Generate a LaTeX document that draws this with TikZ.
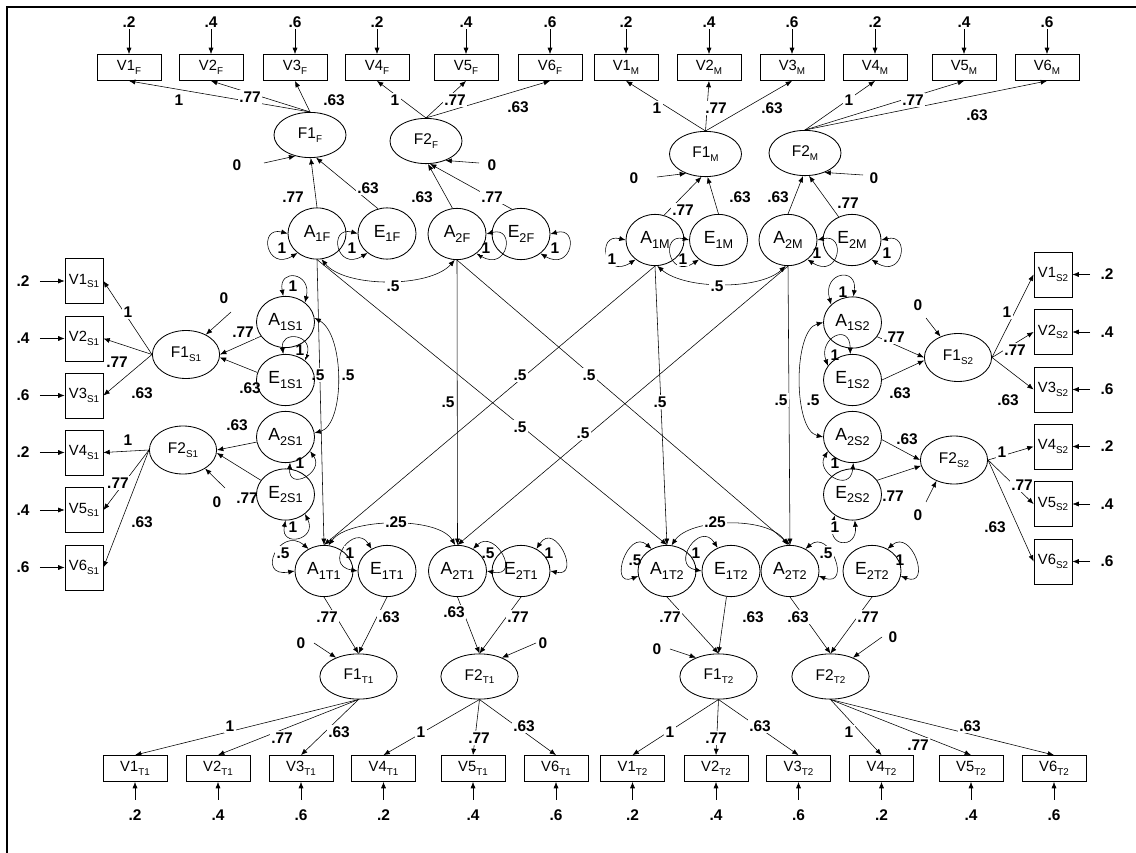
\documentclass[tikz,border=0pt]{standalone}
\usepackage{fontspec}
\setmainfont{Liberation Sans}
\usetikzlibrary{arrows.meta,shapes.geometric,calc}
\pgfdeclarelayer{background}
\pgfsetlayers{background,main}
\newcommand\vsb[1]{\raisebox{-0.45ex}{\fontsize{7}{8}\selectfont #1}}
\newcommand\asb[1]{\raisebox{-0.45ex}{\fontsize{9}{10}\selectfont #1}}
\tikzset{
  obs/.style={draw, rectangle, line width=0.6pt, minimum width=1.6cm, minimum height=0.65cm, inner sep=0pt, font=\fontsize{10.5}{12}\selectfont},
  obss/.style={obs, minimum width=0.95cm, minimum height=1.125cm},
  lat/.style={draw, ellipse, line width=0.6pt, minimum width=1.45cm, minimum height=1.28cm, inner sep=0pt, font=\fontsize{12.5}{14}\selectfont},
  fac/.style={draw, ellipse, line width=0.6pt, minimum width=1.8cm, minimum height=1.13cm, inner sep=0pt, font=\fontsize{11}{13}\selectfont},
  facT/.style={fac, minimum width=1.93cm},
  facS/.style={fac, minimum width=1.68cm, minimum height=1.2cm},
  lbl/.style={font=\bfseries\fontsize{11}{13}\selectfont, fill=white, inner sep=1pt},
  arr/.style={-{Latex[length=4.5pt,width=3.6pt]}},
  dbl/.style={{Latex[length=4.5pt,width=3.6pt]}-{Latex[length=4.5pt,width=3.6pt]}},
}
\begin{document}
\begin{tikzpicture}[x=0.025cm, y=-0.025cm, line width=0.5pt]
\useasboundingbox (0,0) rectangle (1136,853);
\draw[line width=0.8pt] (7,853) -- (7,7) -- (1136,7);

% ---------- observed variables, top ----------
\node[obs] (V1F) at (129,67.5) {V1\vsb{F}};
\node[obs] (V2F) at (211,67.5) {V2\vsb{F}};
\node[obs] (V3F) at (295,67.5) {V3\vsb{F}};
\node[obs] (V4F) at (377,67.5) {V4\vsb{F}};
\node[obs] (V5F) at (466,67.5) {V5\vsb{F}};
\node[obs] (V6F) at (550,67.5) {V6\vsb{F}};
\node[obs] (V1M) at (626,67.5) {V1\vsb{M}};
\node[obs] (V2M) at (709,67.5) {V2\vsb{M}};
\node[obs] (V3M) at (792,67.5) {V3\vsb{M}};
\node[obs] (V4M) at (875,67.5) {V4\vsb{M}};
\node[obs] (V5M) at (964,67.5) {V5\vsb{M}};
\node[obs] (V6M) at (1047,67.5) {V6\vsb{M}};
% ---------- observed variables, bottom ----------
\node[obs] (V1T1) at (135,768.5) {V1\vsb{T1}};
\node[obs] (V2T1) at (218,768.5) {V2\vsb{T1}};
\node[obs] (V3T1) at (301,768.5) {V3\vsb{T1}};
\node[obs] (V4T1) at (383.5,768.5) {V4\vsb{T1}};
\node[obs] (V5T1) at (473,768.5) {V5\vsb{T1}};
\node[obs] (V6T1) at (556,768.5) {V6\vsb{T1}};
\node[obs] (V1T2) at (632.5,768.5) {V1\vsb{T2}};
\node[obs] (V2T2) at (716,768.5) {V2\vsb{T2}};
\node[obs] (V3T2) at (798.5,768.5) {V3\vsb{T2}};
\node[obs] (V4T2) at (881.5,768.5) {V4\vsb{T2}};
\node[obs] (V5T2) at (971,768.5) {V5\vsb{T2}};
\node[obs] (V6T2) at (1054,768.5) {V6\vsb{T2}};
% ---------- observed variables, sides ----------
\node[obss] (V1S1) at (84,281) {V1\vsb{S1}};
\node[obss] (V2S1) at (84,338.5) {V2\vsb{S1}};
\node[obss] (V3S1) at (84,395.5) {V3\vsb{S1}};
\node[obss] (V4S1) at (84,452.5) {V4\vsb{S1}};
\node[obss] (V5S1) at (84,510) {V5\vsb{S1}};
\node[obss] (V6S1) at (84,567.5) {V6\vsb{S1}};
\node[obss] (V1S2) at (1053,274.5) {V1\vsb{S2}};
\node[obss] (V2S2) at (1053,332) {V2\vsb{S2}};
\node[obss] (V3S2) at (1053,389.5) {V3\vsb{S2}};
\node[obss] (V4S2) at (1053,446.5) {V4\vsb{S2}};
\node[obss] (V5S2) at (1053,504) {V5\vsb{S2}};
\node[obss] (V6S2) at (1053,561.5) {V6\vsb{S2}};

% ---------- factors ----------
\node[fac] (F1F) at (310,135) {F1\vsb{F}};
\node[fac] (F2F) at (426,141) {F2\vsb{F}};
\node[fac] (F1M) at (705.5,154) {F1\vsb{M}};
\node[fac] (F2M) at (805,153) {F2\vsb{M}};
\node[facS] (F1S1) at (186,354.5) {F1\vsb{S1}};
\node[facS] (F2S1) at (183,450) {F2\vsb{S1}};
\node[facS] (F1S2) at (958,357.5) {F1\vsb{S2}};
\node[facS] (F2S2) at (954,460) {F2\vsb{S2}};
\node[facT] (F1T1) at (358.5,676.5) {F1\vsb{T1}};
\node[facT] (F2T1) at (479.5,676.5) {F2\vsb{T1}};
\node[facT] (F1T2) at (718.5,676.5) {F1\vsb{T2}};
\node[facT] (F2T2) at (830.5,676.5) {F2\vsb{T2}};

% ---------- A / E latent variables ----------
\node[lat] (A1F) at (317,233.5) {A\asb{1F}};
\node[lat] (E1F) at (387,233.5) {E\asb{1F}};
\node[lat] (A2F) at (457,234) {A\asb{2F}};
\node[lat] (E2F) at (521,234) {E\asb{2F}};
\node[lat] (A1M) at (655,240) {A\asb{1M}};
\node[lat] (E1M) at (718.5,240) {E\asb{1M}};
\node[lat] (A2M) at (788,240) {A\asb{2M}};
\node[lat] (E2M) at (852,240) {E\asb{2M}};
\node[lat] (A1S1) at (285.5,322) {A\asb{1S1}};
\node[lat] (E1S1) at (285.5,380) {E\asb{1S1}};
\node[lat] (A2S1) at (285.5,437) {A\asb{2S1}};
\node[lat] (E2S1) at (285.5,494.5) {E\asb{2S1}};
\node[lat] (A1S2) at (852.5,322.5) {A\asb{1S2}};
\node[lat] (E1S2) at (852.5,380) {E\asb{1S2}};
\node[lat] (A2S2) at (852.5,437) {A\asb{2S2}};
\node[lat] (E2S2) at (852.5,494.5) {E\asb{2S2}};
\node[lat] (A1T1) at (324,571) {A\asb{1T1}};
\node[lat] (E1T1) at (387,571) {E\asb{1T1}};
\node[lat] (A2T1) at (457.5,571) {A\asb{2T1}};
\node[lat] (E2T1) at (521,571) {E\asb{2T1}};
\node[lat] (A1T2) at (667,571) {A\asb{1T2}};
\node[lat] (E1T2) at (731,571) {E\asb{1T2}};
\node[lat] (A2T2) at (790,571) {A\asb{2T2}};
\node[lat] (E2T2) at (872,571) {E\asb{2T2}};

% free ends of the disturbance arrows
\coordinate (z1) at (264,163);
\coordinate (z2) at (479,163);
\coordinate (z3) at (657,177);
\coordinate (z4) at (863,175);
\coordinate (z5) at (231,312);
\coordinate (z6) at (225,488);
\coordinate (z7) at (926,318);
\coordinate (z8) at (926,502);
\coordinate (z9) at (314,643);
\coordinate (z10) at (536,643);
\coordinate (z11) at (670,649);
\coordinate (z12) at (882,637);

\begin{pgfonlayer}{background}
% error variances of indicators
\foreach \n/\v in {V1F/.2,V2F/.4,V3F/.6,V4F/.2,V5F/.4,V6F/.6,V1M/.2,V2M/.4,V3M/.6,V4M/.2,V5M/.4,V6M/.6}{
  \node[lbl] (e\n) at ($(\n.center)+(0,-45.5)$) {\v};
  \draw[arr] (e\n) -- (\n);
}
\foreach \n/\v in {V1T1/.2,V2T1/.4,V3T1/.6,V4T1/.2,V5T1/.4,V6T1/.6,V1T2/.2,V2T2/.4,V3T2/.6,V4T2/.2,V5T2/.4,V6T2/.6}{
  \node[lbl] (e\n) at ($(\n.center)+(0,47)$) {\v};
  \draw[arr,shorten <=0.22cm] (e\n) -- (\n);
}
\foreach \n/\v in {V1S1/.2,V2S1/.4,V3S1/.6,V4S1/.2,V5S1/.4,V6S1/.6}{
  \node[lbl] (e\n) at ($(\n.center)+(-61,0)$) {\v};
  \draw[arr,shorten <=0.22cm] (e\n) -- (\n);
}
\foreach \n/\v in {V1S2/.2,V2S2/.4,V3S2/.6,V4S2/.2,V5S2/.4,V6S2/.6}{
  \node[lbl] (e\n) at ($(\n.center)+(54,0)$) {\v};
  \draw[arr,shorten <=0.22cm] (e\n) -- (\n);
}

% loadings
\foreach \f/\v in {F1F/V1F,F1F/V2F,F1F/V3F,F2F/V4F,F2F/V5F,F2F/V6F,F1M/V1M,F1M/V2M,F1M/V3M,F2M/V4M,F2M/V5M,F2M/V6M}
  \draw[arr] (\f.north) -- (\v.south);
\foreach \f/\v in {F1T1/V1T1,F1T1/V2T1,F1T1/V3T1,F2T1/V4T1,F2T1/V5T1,F2T1/V6T1,F1T2/V1T2,F1T2/V2T2,F1T2/V3T2,F2T2/V4T2,F2T2/V5T2,F2T2/V6T2}
  \draw[arr] (\f.south) -- (\v.north);
\foreach \f/\v in {F1S1/V1S1,F1S1/V2S1,F1S1/V3S1,F2S1/V4S1,F2S1/V5S1,F2S1/V6S1}
  \draw[arr] (\f.west) -- (\v.east);
\foreach \f/\v in {F1S2/V1S2,F1S2/V2S2,F1S2/V3S2,F2S2/V4S2,F2S2/V5S2,F2S2/V6S2}
  \draw[arr] (\f.east) -- (\v.west);

% disturbances
\draw[arr] (z1) -- (F1F.235);
\draw[arr] (z2) -- (F2F.-45);
\draw[arr] (z3) -- (F1M.225);
\draw[arr] (z4) -- (F2M.-45);
\draw[arr] (z5) -- (F1S1.45);
\draw[arr] (z6) -- (F2S1.-40);
\draw[arr] (z7) -- (F1S2.130);
\draw[arr] (z8) -- (F2S2.-130);
\draw[arr] (z9) -- (F1T1.140);
\draw[arr] (z10) -- (F2T1.40);
\draw[arr] (z11) -- (F1T2.140);
\draw[arr] (z12) -- (F2T2.40);

% A/E -> F paths
\draw[arr] (A1F.north) -- (F1F.-88);
\draw[arr] (E1F.110) -- (F1F.-75);
\draw[arr] (A2F.100) -- (F2F.-85);
\draw[arr] (E2F.110) -- (F2F.-80);
\draw[arr] (A1M.70) -- (F1M.-100);
\draw[arr] (E1M.north) -- (F1M.-85);
\draw[arr] (A2M.north) -- (F2M.-95);
\draw[arr] (E2M.120) -- (F2M.-80);
\draw[arr] (A1S1.210) -- (F1S1.east);
\draw[arr] (E1S1.165) -- (F1S1.-5);
\draw[arr] (A2S1.190) -- (F2S1.east);
\draw[arr] (E2S1.150) -- (F2S1.-5);
\draw[arr] (A1S2.-30) -- (F1S2.west);
\draw[arr] (E1S2.east) -- (F1S2.185);
\draw[arr] (A2S2.-5) -- (F2S2.west);
\draw[arr] (E2S2.30) -- (F2S2.190);
\draw[arr] (A1T1.south) -- (F1T1.north);
\draw[arr] (E1T1.south) -- (F1T1.north);
\draw[arr] (A2T1.south) -- (F2T1.north);
\draw[arr] (E2T1.south) -- (F2T1.north);
\draw[arr] (A1T2.south) -- (F1T2.north);
\draw[arr] (E1T2.-100) -- (F1T2.north);
\draw[arr] (A2T2.south) -- (F2T2.north);
\draw[arr] (E2T2.south) -- (F2T2.north);

% genetic transmission
\draw[arr] (A1F.south) -- (A1T1.north);
\draw[arr] (A1F.south) -- (A1T2.north);
\draw[arr] (A2F.south) -- (A2T1.north);
\draw[arr] (A2F.south) -- (A2T2.north);
\draw[arr] (A1M.south) -- (A1T1.north);
\draw[arr] (A1M.south) -- (A1T2.north);
\draw[arr] (A2M.south) -- (A2T1.north);
\draw[arr] (A2M.south) -- (A2T2.north);

% variances (self loops)
\draw[dbl] (A1F.180) .. controls (258,226) and (266,272) .. (A1F.225);
\draw[dbl] (E1F.180) .. controls (328,226) and (336,272) .. (E1F.225);
\draw[dbl] (A2F.0) .. controls (516,226) and (508,272) .. (A2F.-45);
\draw[dbl] (E2F.0) .. controls (580,226) and (572,272) .. (E2F.-45);
\draw[dbl] (A1M.180) .. controls (596,233) and (604,280) .. (A1M.225);
\draw[dbl] (E1M.180) .. controls (660,233) and (668,280) .. (E1M.225);
\draw[dbl] (A2M.0) .. controls (847,233) and (839,280) .. (A2M.-45);
\draw[dbl] (E2M.0) .. controls (911,233) and (903,280) .. (E2M.-45);
\draw[dbl] (A1S1.95) .. controls (278,268) and (312,272) .. (A1S1.45);
\draw[dbl] (E1S1.95) .. controls (280,330) and (314,334) .. (E1S1.45);
\draw[dbl] (A2S1.-80) .. controls (288,492) and (325,472) .. (A2S1.-30);
\draw[dbl] (E2S1.-90) .. controls (280,548) and (318,540) .. (E2S1.-45);
\draw[dbl] (A1S2.140) .. controls (822,272) and (858,266) .. (A1S2.88);
\draw[dbl] (E1S2.150) .. controls (818,338) and (850,322) .. (E1S2.95);
\draw[dbl] (A2S2.210) .. controls (815,472) and (850,494) .. (A2S2.-88);
\draw[dbl] (E2S2.230) .. controls (825,548) and (858,550) .. (E2S2.-85);
\draw[dbl] (A1T1.125) .. controls (280,525) and (255,578) .. (A1T1.180);
\draw[dbl] (E1T1.125) .. controls (355,522) and (322,565) .. (E1T1.180);
\draw[dbl] (A2T1.55) .. controls (495,528) and (522,578) .. (A2T1.0);
\draw[dbl] (E2T1.55) .. controls (555,520) and (582,578) .. (E2T1.0);
\draw[dbl] (A1T2.125) .. controls (628,528) and (608,588) .. (A1T2.190);
\draw[dbl] (E1T2.120) .. controls (700,520) and (670,565) .. (E1T2.180);
\draw[dbl] (A2T2.55) .. controls (830,528) and (852,588) .. (A2T2.-10);
\draw[dbl] (E2T2.55) .. controls (912,528) and (932,588) .. (E2T2.-10);

% covariances
\draw[dbl] (A1F.-80) .. controls (345,288) and (430,288) .. (A2F.-95);
\draw[dbl] (A1M.-85) .. controls (685,290) and (760,290) .. (A2M.-95);
\draw[dbl] (A1T1.80) .. controls (348,518) and (438,516) .. (A2T1.95);
\draw[dbl] (A1T2.80) .. controls (690,518) and (768,516) .. (A2T2.95);
\draw[dbl] (A1S1.8) .. controls (345,335) and (345,425) .. (A2S1.8);
\draw[dbl] (A1S2.180) .. controls (793,330) and (793,430) .. (A2S2.180);

% path labels
\foreach \x/\y/\t [count=\i] in {
 179/100/1, 250/97/.77, 334/100/.63, 395/100/1, 455/100/.77, 518/107/.63,
 657/108/1, 716/108/.77, 772/108/.63, 849/100/1, 913/100/.77, 977/115/.63,
 237/165/0, 492/165/0, 634/178/0, 874/178/0,
 293/197/.77, 368/188/.63, 422/197/.63, 492/197/.77, 683/210/.77, 740/197/.63, 778/197/.63, 848/203/.77,
 282/248/1, 352/248/1, 486/248/1, 555/248/1, 612/259/1, 683/259/1, 817/253/1, 887/253/1,
 393/286/.5, 717/286/.5,
 318/375/.5, 448/402/.5, 660/402/.5, 781/400/.5, 520/375/.5, 589/375/.5, 520/427/.5, 583/433/.5,
 348/375/.5, 813/400/.5,
 293/286/1, 300/350/1, 300/463/1, 293/527/1,
 843/292/1, 835/355/1, 835/463/1, 835/527/1,
 128/312/1, 117/362/.77, 142/393/.63, 224/298/0, 243/332/.77, 250/388/.63,
 128/440/1, 118/483/.77, 142/522/.63, 237/425/.63, 247/498/.77, 217/502/0,
 1007/312/1, 1015/350/.77, 1008/400/.63, 918/305/0, 894/337/.77, 900/393/.63,
 1002/452/1, 1022/485/.77, 995/527/.63, 907/439/.63, 893/496/.77, 918/515/0,
 283/553/.5, 350/553/1, 488/553/.5, 549/553/1, 635/560/.5, 696/553/1, 826/553/.5, 900/560/1,
 396/522/.25, 715/522/.25,
 301/643/0, 327/617/.77, 389/617/.63, 454/612/.63, 518/617/.77, 543/643/0,
 657/649/0, 670/617/.77, 753/617/.63, 798/617/.63, 868/617/.77, 893/637/0,
 230/726/1, 282/738/.77, 339/732/.63, 421/732/1, 479/738/.77, 524/726/.63,
 670/732/1, 716/738/.77, 760/726/.63, 849/732/1, 918/745/.77, 970/726/.63}
 \node[lbl] (lab\i) at (\x,\y) {\t};
\end{pgfonlayer}
\end{tikzpicture}
\end{document}
